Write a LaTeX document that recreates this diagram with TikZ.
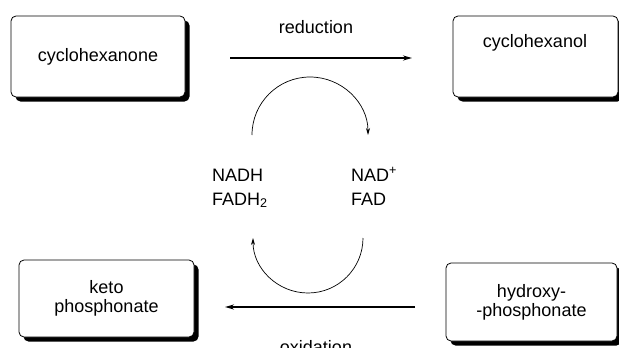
\documentclass[tikz,border=0pt]{standalone}
\usepackage{fontspec}
\setmainfont{Liberation Sans}
\usetikzlibrary{shadows,arrows.meta}
\begin{document}
\begin{tikzpicture}[x=1pt,y=-1pt,
  box/.style={draw=black, line width=0.8pt, rounded corners=5pt, fill=white,
    general shadow={fill=black, shadow xshift=4.5pt, shadow yshift=-4.5pt},
    inner sep=0pt, align=center, font=\fontsize{18}{19}\selectfont},
  txt/.style={font=\fontsize{18}{19}\selectfont, inner sep=0pt, align=left},
  mainarrow/.style={line width=1.6pt, -{Stealth[length=9pt,width=5pt]}},
  cyc/.style={line width=0.7pt, -{Stealth[length=7pt,width=4pt]}}
]
\useasboundingbox (0,0) rectangle (619,348);
% boxes
\node[box, minimum width=174pt, minimum height=81pt] (b1) at (98,56.5) {cyclohexanone};
\node[box, minimum width=165pt, minimum height=81pt] (b2) at (535.5,56.5) {};
\node[txt] (t2) at (535,43) {cyclohexanol};
\node[box, minimum width=175pt, minimum height=77pt] (b3) at (106.5,298.5) {keto\\phosphonate};
\node[box, minimum width=171pt, minimum height=78pt] (b4) at (531.5,302) {hydroxy-\\-phosphonate};
% main arrows
\coordinate (rs) at (230,58);
\coordinate (re) at (412,58);
\draw[mainarrow] (rs) -- (re);
\node[txt] (red) at (316,27) {reduction};
\coordinate (os) at (415,307);
\coordinate (oe) at (225,307);
\draw[mainarrow] (os) -- (oe);
\node[txt, anchor=base] (ox) at (316,353) {oxidation};
% cofactors
\node[txt, anchor=base west] (nadh) at (212,181) {NADH};
\node[txt, anchor=base west] (fadh) at (212,205) {FADH\textsubscript{2}};
\node[txt, anchor=base west] (nad) at (351,181) {NAD\textsuperscript{+}};
\node[txt, anchor=base west] (fad) at (351,205) {FAD};
% cycle arcs
\coordinate (ua) at (252,135);
\coordinate (la) at (363,238);
\draw[cyc] (ua) arc[start angle=180, end angle=360, radius=58];
\draw[cyc] (la) arc[start angle=0, end angle=180, radius=55];
\end{tikzpicture}
\end{document}
